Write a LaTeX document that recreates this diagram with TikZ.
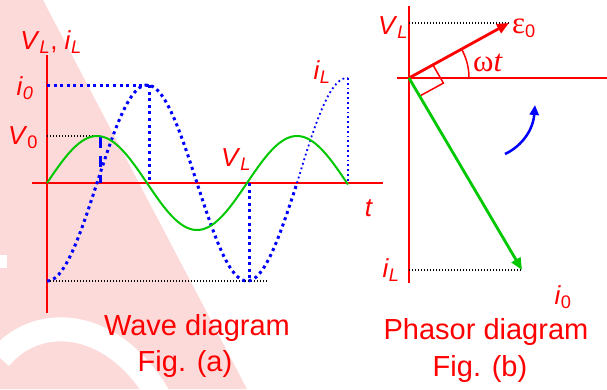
\documentclass[tikz,border=0pt]{standalone}
\usepackage{fontspec}
\setmainfont{Liberation Sans}
\newfontfamily\greekfont{Liberation Serif}
\usetikzlibrary{arrows.meta}
\newcommand{\vsub}[2]{\textit{#1}\textsubscript{#2}}
\newcommand{\grk}[1]{{\greekfont\fontsize{31}{31}\selectfont #1}}

\begin{document}
\begin{tikzpicture}[x=1pt,y=-1pt,>={Triangle[length=12pt,width=10pt]}]
  \definecolor{wmark}{RGB}{253,218,218}
  \definecolor{grn}{RGB}{0,200,0}
  \tikzstyle{lbl}=[text=red, inner sep=0pt, font=\fontsize{26}{28}\selectfont]
  \tikzstyle{figtitle}=[text=red, inner sep=0pt, font=\fontsize{29}{32}\selectfont]
  \tikzstyle{axis}=[red, line width=2pt]
  \tikzstyle{guide}=[black, line width=1.2pt, dash pattern=on 1.2pt off 1.8pt]
  \tikzstyle{bigdots}=[blue, line width=3pt, dash pattern=on 3pt off 3.6pt]
  \tikzstyle{smalldots}=[blue, line width=1.8pt, dash pattern=on 1.8pt off 3pt]

  \useasboundingbox (0,0) rectangle (607,389);
  % faded watermark behind everything
  \fill[wmark] (0,0) -- (43,0) -- (247,389) -- (0,389) -- cycle;
  \draw[white, line width=24pt] (0,358) .. controls (35,315) and (110,315) .. (158,395);
  \fill[white] (0,255) rectangle (7,268);

  % wave diagram
  \coordinate (o1) at (47,183);
  \draw[axis] (47,55) -- (47,313);
  \draw[axis] (32,183) -- (383,183);
  \draw[guide] (47,136) -- (99,136);
  \draw[guide] (47,281) -- (268,281);
  \draw[bigdots] (47,85) -- (149,85);
  \draw[bigdots] (149,85) -- (149,183);
  \draw[bigdots] (249,183) -- (249,281);
  \draw[smalldots] (348,78) -- (348,183);
  \draw[blue, line width=3pt, dash pattern=on 11pt off 8pt] (100,137) -- (100,183);
  \draw[bigdots] plot[domain=47:297, samples=150] (\x, {183+98*cos(1.8*(\x-47))});
  \draw[smalldots] plot[domain=297:348, samples=40] (\x, {183+105*cos(1.8*(\x-47))});
  \draw[grn, line width=2pt] plot[domain=47:348, samples=150] (\x, {183-47*sin(1.8*(\x-47))});

  \node[lbl] (yl) at (51,42) {\vsub{V}{\textit{L}}, \vsub{i}{\textit{L}}};
  \node[lbl] (i0l) at (25,88) {\vsub{i}{\textit{0}}};
  \node[lbl] (v0l) at (23,138) {\vsub{V}{0}};
  \node[lbl] (vlm) at (236,160) {\vsub{V}{\textit{L}}};
  \node[lbl] (tl) at (369,208) {\textit{t}};
  \node[lbl] (ilr) at (322,72) {\vsub{i}{\textit{L}}};

  % phasor diagram
  \coordinate (o2) at (409,78);
  \coordinate (e0) at (509,23);
  \coordinate (i0) at (522,270);
  \draw[axis] (409,6) -- (409,283);
  \draw[axis] (397,78) -- (607,78);
  \draw[guide] (409,23) -- (e0);
  \draw[guide] (409,270) -- (i0);
  \draw[red, line width=1.5pt] plot[domain=0:28.8, samples=30] ({409+60*cos(\x)},{78-60*sin(\x)});
  \draw[red, line width=1.5pt] (433,65) -- (443.4,83.1) -- (419.6,96.1);
  \draw[red, line width=2.8pt, ->] (o2) -- (e0);
  \draw[grn, line width=2.8pt, ->] (o2) -- (i0);
  \draw[blue, line width=2.5pt, -{Triangle[length=10pt,width=9pt]}] (505,154) .. controls (522,146) and (533,130) .. (535,105);

  \node[lbl] (vlp) at (393,28) {\vsub{V}{\textit{L}}};
  \node[lbl] (e0l) at (524,28) {\grk{ε}\textsubscript{0}};
  \node[lbl] (wtl) at (488,63) {\grk{ω\textit{t}}};
  \node[lbl] (ilp) at (391,270) {\vsub{i}{\textit{L}}};
  \node[lbl] (i0p) at (563,297) {\vsub{i}{0}};

  \node[figtitle] (wave) at (197,328) {Wave diagram};
  \node[figtitle] (figa) at (185,364) {Fig. (a)};
  \node[figtitle] (phasor) at (486,332) {Phasor diagram};
  \node[figtitle] (figb) at (480,369) {Fig. (b)};
\end{tikzpicture}
\end{document}
